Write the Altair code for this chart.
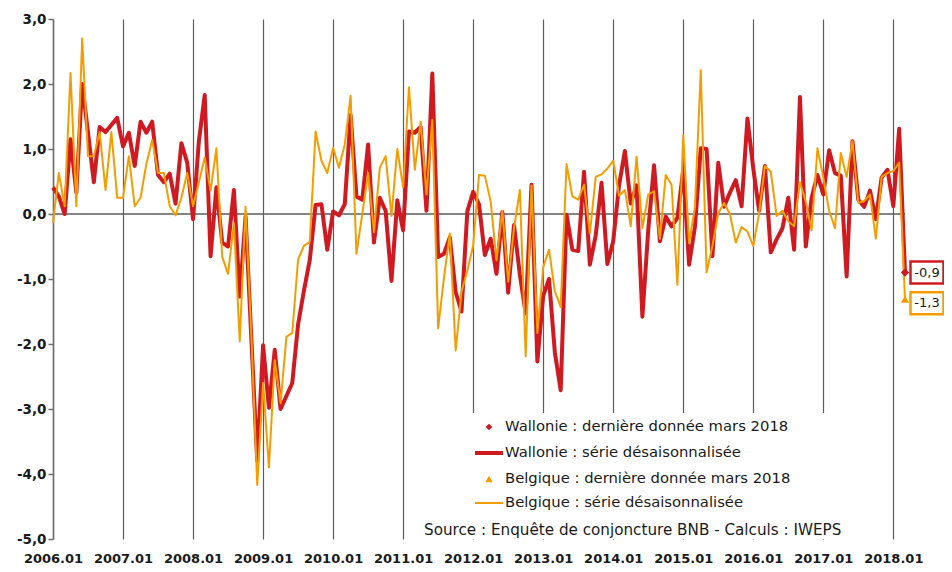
import altair as alt
import pandas as pd

# ---------------- data ----------------
start_year = 2006
tick_labels = [f"{y}.01" for y in range(2006, 2019)]

wallonie = [
    0.41, 0.27, 0.0, 1.15, 0.33, 2.0, 1.25, 0.49, 1.34, 1.26, 1.37, 1.48,
    1.04, 1.25, 0.74, 1.42, 1.25, 1.42, 0.6, 0.49, 0.62, 0.16, 1.09, 0.79,
    -0.08, 1.12, 1.83, -0.65, 0.41, -0.44, -0.5, 0.37, -1.27, -0.04, -1.94, -3.8,
    -2.02, -2.98, -2.09, -3.0, -2.8, -2.6, -1.7, -1.18, -0.71, 0.14, 0.15, -0.55,
    0.04, -0.02, 0.15, 1.52, 0.27, 0.22, 1.07, -0.44, 0.25, 0.05, -1.03, 0.21,
    -0.25, 1.27, 1.25, 1.34, 0.05, 2.16, -0.66, -0.61, -0.36, -1.2, -1.5, 0.04,
    0.34, 0.15, -0.63, -0.38, -0.92, 0.03, -1.21, -0.17, -0.93, -1.53, 0.45, -2.27,
    -1.26, -1.0, -2.13, -2.71, -0.01, -0.55, -0.57, 0.65, -0.78, -0.33, 0.48, -0.77,
    -0.42, 0.44, 0.97, 0.16, 0.44, -1.58, -0.25, 0.75, -0.42, -0.04, -0.19, -0.06,
    0.68, -0.78, -0.2, 1.01, 1.0, -0.65, 0.79, 0.11, 0.33, 0.52, 0.12, 1.47,
    0.7, 0.05, 0.74, -0.59, -0.39, -0.22, 0.25, -0.55, 1.8, -0.5, 0.25, 0.6,
    0.3, 0.98, 0.63, 0.59, -0.96, 1.12, 0.22, 0.11, 0.36, -0.08, 0.56, 0.68,
    0.12, 1.31, -0.9,
]

belgique = [
    -0.14, 0.63, 0.12, 2.17, 0.12, 2.70, 0.89, 0.89, 1.26, 0.37, 1.26, 0.25,
    0.25, 0.89, 0.12, 0.25, 0.77, 1.14, 0.63, 0.63, 0.12, -0.02, 0.25, 0.63,
    0.12, 0.49, 0.87, 0.36, 1.01, -0.66, -0.92, -0.14, -1.96, 0.11, -1.9, -4.17,
    -2.6, -3.9, -2.25, -2.91, -1.89, -1.83, -0.7, -0.49, -0.43, 1.27, 0.82, 0.63,
    1.02, 0.71, 1.07, 1.82, -0.61, 0.0, 0.63, -0.28, 0.71, 0.89, -0.03, 1.0,
    0.41, 1.95, 0.68, 1.42, 0.3, 1.45, -1.76, -0.98, -0.3, -2.1, -1.2, -0.87,
    -0.49, 0.6, 0.59, 0.19, -0.71, 0.05, -1.04, -0.22, 0.37, -2.19, 0.44, -1.83,
    -0.82, -0.55, -1.19, -1.43, 0.77, 0.27, 0.22, 0.45, -0.3, 0.57, 0.61, 0.7,
    0.82, 0.28, 0.37, -0.19, 0.88, -0.22, 0.3, 0.35, -0.38, 0.6, 0.45, -1.09,
    1.21, -0.45, 0.1, 2.21, -0.9, -0.49, 0.01, 0.17, 0.0, -0.44, -0.2, -0.27,
    -0.49, 0.01, 0.74, 0.65, -0.03, 0.05, -0.11, -0.19, 0.49, 0.19, -0.25, 1.01,
    0.56, 0.05, -0.22, 0.94, 0.57, 1.12, 0.17, 0.2, 0.3, -0.38, 0.57, 0.63,
    0.66, 0.79, -1.31,
]

last_labels = ["-0,9", "-1,3"]

legend_labels = [
    "Wallonie : dernière donnée mars 2018",
    "Wallonie : série désaisonnalisée",
    "Belgique : dernière donnée mars 2018",
    "Belgique : série désaisonnalisée",
]
source_text = "Source : Enquête de conjoncture BNB - Calculs : IWEPS"

# ---------------- styling ----------------
RED = "#D01A21"
ORANGE = "#F59D00"
GRID = "#5c5c5c"
FONT = "DejaVu Sans"
TXT = "#1a1a1a"

n = len(wallonie)
months = [f"{start_year + k // 12}.{k % 12 + 1:02d}" for k in range(n)]

df_w = pd.DataFrame({"t": range(n), "mois": months, "valeur": wallonie})
df_b = pd.DataFrame({"t": range(n), "mois": months, "valeur": belgique})
df_zero = pd.DataFrame({"valeur": [0.0]})
df_last_w = df_w.tail(1).assign(lab=last_labels[0])
df_last_b = df_b.tail(1).assign(lab=last_labels[1])

label_expr_x = "[" + ",".join(f"'{s}'" for s in tick_labels) + "][datum.value / 12]"

x_axis = alt.Axis(
    values=list(range(0, n, 12)), labelExpr=label_expr_x, grid=True,
    gridColor=GRID, gridWidth=1.2, domain=False, ticks=False,
    labelFont=FONT, labelFontSize=13, labelFontWeight="bold", labelColor=TXT,
    labelPadding=13, labelFlush=False, title=None,
)
y_axis = alt.Axis(
    values=list(range(-5, 4)),
    labelExpr="(datum.value < 0 ? '-' : '') + replace(format(abs(datum.value), '.1f'), '.', ',')",
    grid=False, domainColor="#6e6e6e", domainWidth=1.5, tickColor="#6e6e6e",
    tickSize=5, tickWidth=1.5, labelPadding=2, labelFont=FONT,
    labelFontSize=13.5, labelFontWeight="bold", labelColor=TXT, title=None,
)
X = alt.X("t:Q", scale=alt.Scale(domain=[0, n - 1], nice=False, zero=False), axis=x_axis)
Y = alt.Y("valeur:Q", scale=alt.Scale(domain=[-5, 3], nice=False), axis=y_axis)

zero = alt.Chart(df_zero).mark_rule(color=GRID, strokeWidth=1.5).encode(y=Y)

legend_bg = alt.Chart(pd.DataFrame({"a": [0]})).mark_rect(fill="white").encode(
    x=alt.value(367), x2=alt.value(817), y=alt.value(394), y2=alt.value(520)
)

line_w = alt.Chart(df_w).mark_line(color=RED, strokeWidth=4, strokeJoin="round").encode(x=X, y=Y)
line_b = alt.Chart(df_b).mark_line(color=ORANGE, strokeWidth=2, strokeJoin="round").encode(x=X, y=Y)

pt_w = alt.Chart(df_last_w).mark_point(shape="diamond", filled=True, color=RED, size=70, opacity=1).encode(x=X, y=Y)
pt_b = alt.Chart(df_last_b).mark_point(shape="triangle-up", filled=True, color=ORANGE, size=70, opacity=1).encode(x=X, y=Y)

box_path = "M-1,-0.667L1,-0.667L1,0.667L-1,0.667Z"
BOX_OFF = 22
box_w = alt.Chart(df_last_w).mark_point(
    shape=box_path, size=1089, filled=True, fill="white", stroke=RED,
    strokeWidth=2.5, opacity=1, xOffset=BOX_OFF,
).encode(x=X, y=Y)
box_b = alt.Chart(df_last_b).mark_point(
    shape=box_path, size=1089, filled=True, fill="white", stroke=ORANGE,
    strokeWidth=2.5, opacity=1, xOffset=BOX_OFF, yOffset=4,
).encode(x=X, y=Y)
txt_w = alt.Chart(df_last_w).mark_text(font=FONT, fontSize=13, color=TXT, xOffset=BOX_OFF).encode(x=X, y=Y, text="lab:N")
txt_b = alt.Chart(df_last_b).mark_text(font=FONT, fontSize=13, color=TXT, xOffset=BOX_OFF, yOffset=4).encode(x=X, y=Y, text="lab:N")

# ---------------- legend (drawn manually, inside plot) ----------------
leg_rows = [408, 434, 460, 484]
df_leg = pd.DataFrame({"label": legend_labels, "py": leg_rows})
leg_text = alt.Chart(df_leg).mark_text(
    align="left", baseline="middle", font=FONT, fontSize=14.8, color=TXT
).encode(x=alt.value(452), y=alt.Y("py:Q", scale=None), text="label:N")

leg_sym_w = alt.Chart(pd.DataFrame({"a": [0]})).mark_point(
    shape="diamond", filled=True, color=RED, size=45, opacity=1
).encode(x=alt.value(436), y=alt.value(leg_rows[0]))
leg_line_w = alt.Chart(pd.DataFrame({"a": [0]})).mark_rule(color=RED, strokeWidth=4).encode(
    x=alt.value(422), x2=alt.value(450), y=alt.value(leg_rows[1]))
leg_sym_b = alt.Chart(pd.DataFrame({"a": [0]})).mark_point(
    shape="triangle-up", filled=True, color=ORANGE, size=55, opacity=1
).encode(x=alt.value(436), y=alt.value(leg_rows[2]))
leg_line_b = alt.Chart(pd.DataFrame({"a": [0]})).mark_rule(color=ORANGE, strokeWidth=2).encode(
    x=alt.value(422), x2=alt.value(450), y=alt.value(leg_rows[3]))

src = alt.Chart(pd.DataFrame({"s": [source_text]})).mark_text(
    align="left", baseline="middle", font=FONT, fontSize=15.2, color=TXT
).encode(x=alt.value(371), y=alt.value(511), text="s:N")

chart = alt.layer(
    zero, legend_bg, line_w, line_b, pt_w, pt_b, box_w, box_b, txt_w, txt_b,
    leg_text, leg_sym_w, leg_line_w, leg_sym_b, leg_line_b, src,
).properties(
    width=852, height=520,
    autosize=alt.AutoSizeParams(type="none"),
    padding={"left": 45, "top": 11, "right": 39, "bottom": 25},
).configure_view(stroke=None)

chart.save("out.html", embed_options={"renderer": "svg", "actions": False})
